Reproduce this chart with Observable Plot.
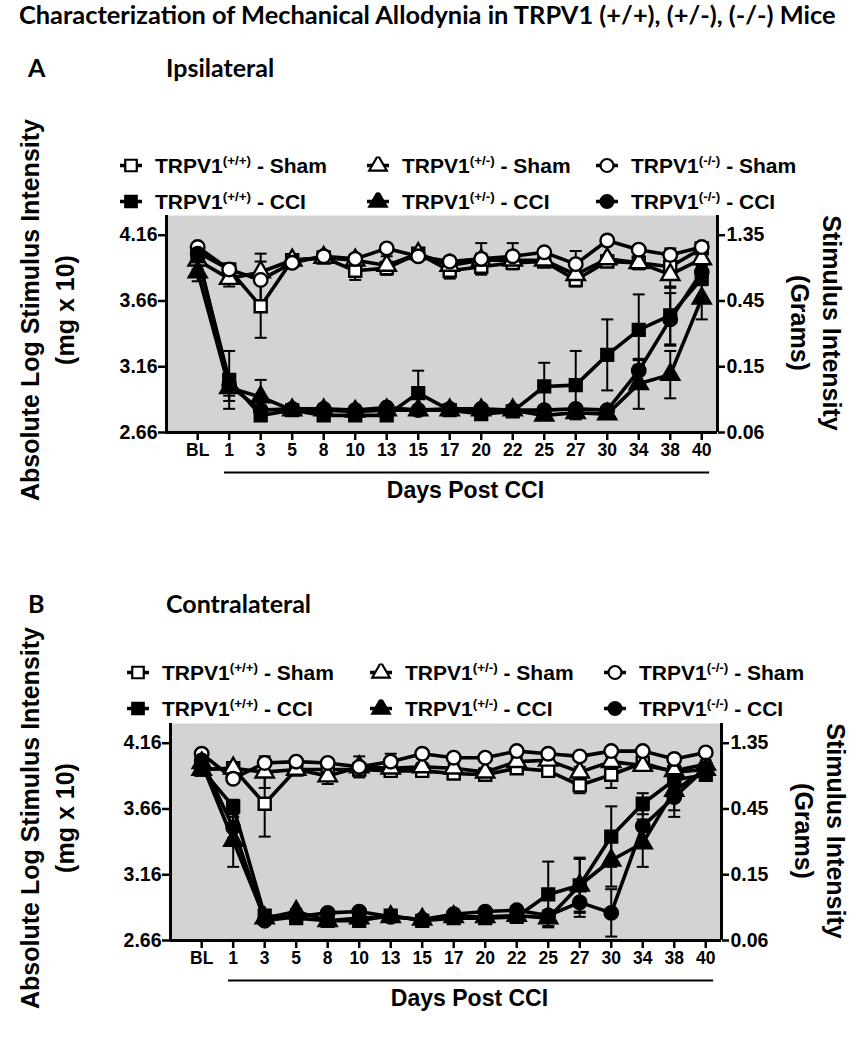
<!DOCTYPE html>
<html><head><meta charset="utf-8">
<script src="https://cdn.jsdelivr.net/npm/d3@7"></script>
<script src="https://cdn.jsdelivr.net/npm/@observablehq/plot@0.6"></script>
<style>
body{margin:0;background:#fff;}
#root{position:relative;width:867px;height:1050px;overflow:hidden;font-family:"Liberation Sans",Arial,sans-serif;}
.abs{position:absolute;z-index:2;white-space:nowrap;line-height:1;}
.head{font-family:Lato,"Liberation Sans",sans-serif;font-weight:bold;font-size:25px;transform:translateY(-50%);}
.title{font-size:25.4px;}
.leg{position:absolute;z-index:2;display:flex;align-items:center;font-weight:bold;font-size:21px;white-space:nowrap;transform:translateY(-50%);line-height:1;}
.leg svg{margin-right:12px;}
.leg sup{font-size:0.64em;vertical-align:0.55em;line-height:0;}
</style></head>
<body><div id="root"></div>
<script>
// ---------- data ----------
const days = ["BL","1","3","5","8","10","13","15","17","20","22","25","27","30","34","38","40"];
const seriesNames = ["TRPV1(+/+) - Sham","TRPV1(+/-) - Sham","TRPV1(-/-) - Sham","TRPV1(+/+) - CCI","TRPV1(+/-) - CCI","TRPV1(-/-) - CCI"];
const leftTicks = [2.66, 3.16, 3.66, 4.16];
const rightTickLabels = ["0.06","0.15","0.45","1.35"];

// Panel A - Ipsilateral (absolute log stimulus intensity)
const ipsiShamWT  = [4.03,3.90,3.62,3.97,3.99,3.89,3.91,4.02,3.89,3.92,3.95,3.96,3.82,3.96,3.95,3.92,4.06];
const ipsiShamHet = [3.97,3.83,3.88,3.97,3.99,3.97,3.93,4.02,3.93,3.97,3.97,3.97,3.86,3.98,3.95,3.86,3.98];
const ipsiShamKO  = [4.07,3.90,3.82,3.95,4.00,3.98,4.06,4.00,3.96,3.98,4.00,4.03,3.94,4.12,4.05,4.01,4.07];
const ipsiCciWT   = [4.00,3.06,2.79,2.83,2.79,2.79,2.79,2.96,2.83,2.80,2.82,3.01,3.02,3.25,3.44,3.55,3.83];
const ipsiCciHet  = [3.88,3.00,2.93,2.83,2.83,2.82,2.83,2.83,2.83,2.83,2.83,2.79,2.81,2.80,3.03,3.10,3.68];
const ipsiCciKO   = [4.02,3.02,2.83,2.84,2.84,2.83,2.85,2.83,2.84,2.84,2.83,2.83,2.84,2.83,3.13,3.52,3.88];
const ipsiShamWTErr  = [0.03,0.03,0.24,0.02,0.02,0.07,0.05,0.03,0.06,0.04,0.04,0.04,0.05,0.04,0.04,0.04,0.03];
const ipsiShamHetErr = [0.07,0.06,0.08,0.02,0.02,0.03,0.07,0.02,0.05,0.05,0.05,0.04,0.06,0.03,0.05,0.10,0.05];
const ipsiShamKOErr  = [0.02,0.03,0.20,0.02,0.02,0.03,0.03,0.02,0.03,0.12,0.10,0.02,0.10,0.02,0.03,0.05,0.02];
const ipsiCciWTErr   = [0.04,0.22,0.03,0.02,0.03,0.02,0.02,0.17,0.02,0.02,0.02,0.18,0.26,0.27,0.27,0.22,0.05];
const ipsiCciHetErr  = [0.07,0.10,0.13,0.02,0.02,0.02,0.02,0.02,0.02,0.02,0.02,0.02,0.04,0.03,0.19,0.18,0.16];
const ipsiCciKOErr   = [0.03,0.08,0.03,0.02,0.02,0.02,0.02,0.02,0.02,0.02,0.02,0.02,0.03,0.02,0.08,0.20,0.05];

// Panel B - Contralateral
const contraShamWT  = [3.96,3.97,3.70,3.96,3.96,3.96,3.95,3.95,3.93,3.92,3.97,3.95,3.84,3.92,4.01,3.94,3.96];
const contraShamHet = [3.96,3.97,3.94,3.96,3.91,3.98,3.97,3.98,3.97,3.94,4.02,4.03,3.94,4.02,3.99,3.95,4.00];
const contraShamKO  = [4.08,3.89,4.01,4.02,4.01,3.98,4.02,4.08,4.05,4.05,4.10,4.08,4.06,4.10,4.10,4.04,4.09];
const contraCciWT   = [3.96,3.68,2.85,2.83,2.81,2.81,2.85,2.81,2.83,2.83,2.84,3.01,3.08,3.45,3.70,3.88,3.92];
const contraCciHet  = [4.01,3.42,2.83,2.88,2.81,2.83,2.84,2.82,2.84,2.84,2.85,2.83,3.08,3.27,3.40,3.80,3.96];
const contraCciKO   = [4.03,3.52,2.81,2.84,2.87,2.88,2.84,2.82,2.86,2.88,2.89,2.85,2.95,2.87,3.53,3.75,3.97];
const contraShamWTErr  = [0.02,0.03,0.25,0.03,0.02,0.03,0.03,0.02,0.03,0.03,0.03,0.03,0.06,0.10,0.03,0.03,0.03];
const contraShamHetErr = [0.02,0.03,0.12,0.03,0.06,0.08,0.05,0.03,0.03,0.03,0.03,0.03,0.04,0.04,0.03,0.06,0.03];
const contraShamKOErr  = [0.02,0.03,0.03,0.02,0.02,0.03,0.06,0.02,0.02,0.02,0.02,0.02,0.02,0.02,0.02,0.02,0.02];
const contraCciWTErr   = [0.03,0.05,0.02,0.02,0.02,0.02,0.02,0.02,0.02,0.02,0.02,0.25,0.21,0.23,0.08,0.05,0.04];
const contraCciHetErr  = [0.03,0.20,0.02,0.02,0.02,0.02,0.02,0.02,0.02,0.02,0.02,0.06,0.20,0.20,0.18,0.20,0.04];
const contraCciKOErr   = [0.03,0.08,0.02,0.02,0.02,0.02,0.02,0.02,0.02,0.02,0.02,0.03,0.11,0.18,0.12,0.10,0.04];

// ---------- helpers ----------
function rowsOf(vals, errs) {
  const rows = [];
  vals.forEach((arr, s) => arr.forEach((v, i) => rows.push({series: seriesNames[s], sham: s < 3, i, v, e: errs[s][i]})));
  return rows;
}
const capSymbol = {draw(ctx, size) { const h = Math.sqrt(size / Math.PI); ctx.moveTo(-h, 0); ctx.lineTo(h, 0); }};
const xDomain = [-0.99, 16.5];
const yDomain = [2.66, 4.31];

function panel(rows, cfg) {
  const i1 = days.indexOf("1"), i40 = days.indexOf("40");
  const svg = Plot.plot({
    width: 867, height: cfg.height,
    marginLeft: cfg.left, marginRight: 867 - cfg.right, marginTop: cfg.mt, marginBottom: cfg.mb,
    style: {background: "transparent", fontFamily: "'Liberation Sans', Arial, sans-serif", fontWeight: "bold", overflow: "visible", color: "black"},
    x: {type: "linear", domain: xDomain},
    y: {domain: yDomain},
    symbol: {domain: seriesNames, range: ["square","triangle","circle","square","triangle","circle"]},
    marks: [
      Plot.frame({fill: "#d3d3d3", stroke: null}),
      Plot.axisY({anchor: "left", ticks: leftTicks, tickFormat: d => d.toFixed(2), tickSize: 8, tickPadding: 1, fontSize: 19.5, strokeWidth: 2.5, label: null}),
      Plot.axisY({anchor: "right", ticks: leftTicks, tickFormat: d => rightTickLabels[leftTicks.indexOf(d)], tickSize: 7, tickPadding: 2, fontSize: 19.5, strokeWidth: 2.5, label: null}),
      Plot.axisX({ticks: d3.range(days.length), tickFormat: i => days[i], tickSize: 8, tickPadding: 3, fontSize: 17.5, strokeWidth: 2.5, label: null}),
      Plot.ruleX([xDomain[0], xDomain[1]], {strokeWidth: 3}),
      Plot.ruleY([yDomain[0]], {strokeWidth: 3}),
      Plot.ruleY([{y: yDomain[0], x1: i1 - 0.15, x2: i40 + 0.25}], {y: "y", x1: "x1", x2: "x2", dy: 40, strokeWidth: 2}),
      Plot.text(["Days Post CCI"], {x: (i1 + i40) / 2, y: yDomain[0], text: d => d, dy: 58, fontSize: 23}),
      Plot.text(["Absolute Log Stimulus Intensity"], {frameAnchor: "left", text: d => d, rotate: -90, textAnchor: "middle", dx: cfg.lab1, dy: -14, fontSize: 25}),
      Plot.text(["(mg x 10)"], {frameAnchor: "left", text: d => d, rotate: -90, textAnchor: "middle", dx: cfg.lab2, dy: -14, fontSize: 25}),
      Plot.text(["Stimulus Intensity"], {frameAnchor: "right", text: d => d, rotate: 90, textAnchor: "middle", dx: 113, dy: -1, fontSize: 25}),
      Plot.text(["(Grams)"], {frameAnchor: "right", text: d => d, rotate: 90, textAnchor: "middle", dx: 81, dy: -1, fontSize: 25}),
      Plot.ruleX(rows, {x: "i", y1: d => d.v - d.e, y2: d => d.v + d.e, strokeWidth: 2}),
      Plot.dot(rows, {x: "i", y: d => d.v + d.e, symbol: capSymbol, r: 6, stroke: "black", fill: "none", strokeWidth: 2}),
      Plot.dot(rows, {x: "i", y: d => d.v - d.e, symbol: capSymbol, r: 6, stroke: "black", fill: "none", strokeWidth: 2}),
      Plot.line(rows, {x: "i", y: "v", z: "series", stroke: "black", strokeWidth: 3.6}),
      Plot.dot(rows.filter(d => d.sham), {x: "i", y: "v", symbol: "series", fill: "white", stroke: "black", strokeWidth: 2.4, r: 6.8}),
      Plot.dot(rows.filter(d => !d.sham), {x: "i", y: "v", symbol: "series", fill: "black", stroke: "black", strokeWidth: 2.2, r: 6.8})
    ]
  });
  svg.style.position = "absolute";
  svg.style.left = "0px";
  svg.style.top = cfg.top + "px";
  svg.style.maxWidth = "none";
  return svg;
}

const root = document.getElementById("root");
const rowsA = rowsOf([ipsiShamWT, ipsiShamHet, ipsiShamKO, ipsiCciWT, ipsiCciHet, ipsiCciKO],
  [ipsiShamWTErr, ipsiShamHetErr, ipsiShamKOErr, ipsiCciWTErr, ipsiCciHetErr, ipsiCciKOErr]);
const rowsB = rowsOf([contraShamWT, contraShamHet, contraShamKO, contraCciWT, contraCciHet, contraCciKO],
  [contraShamWTErr, contraShamHetErr, contraShamKOErr, contraCciWTErr, contraCciHetErr, contraCciKOErr]);

root.appendChild(panel(rowsA, {top: 100, height: 420, left: 166, right: 717, mt: 115, mb: 88, lab1: -136, lab2: -101}));
root.appendChild(panel(rowsB, {top: 608, height: 442, left: 170, right: 721, mt: 115, mb: 110, lab1: -140, lab2: -105}));

// headings
function addText(txt, cls, x, y) {
  const d = document.createElement("div");
  d.className = "abs " + cls; d.textContent = txt;
  d.style.left = x + "px"; d.style.top = y + "px";
  root.appendChild(d);
}
addText("Characterization of Mechanical Allodynia in TRPV1 (+/+), (+/-), (-/-) Mice", "head title", 19, 15);
addText("A", "head", 28, 67);
addText("Ipsilateral", "head", 166, 67);
addText("B", "head", 28, 603);
addText("Contralateral", "head", 166, 603);

// legends
function legendIcon(shape, filled) {
  const ns = "http://www.w3.org/2000/svg";
  const s = document.createElementNS(ns, "svg");
  s.setAttribute("width", 24); s.setAttribute("height", 18);
  const l = document.createElementNS(ns, "line");
  l.setAttribute("x1", 1); l.setAttribute("x2", 23); l.setAttribute("y1", 9); l.setAttribute("y2", 9);
  l.setAttribute("stroke", "black"); l.setAttribute("stroke-width", 3.5);
  s.appendChild(l);
  const p = document.createElementNS(ns, "path");
  const sym = shape === "square" ? d3.symbolSquare : shape === "triangle" ? d3.symbolTriangle : d3.symbolCircle;
  p.setAttribute("d", d3.symbol(sym, Math.PI * 6.5 * 6.5)());
  p.setAttribute("transform", "translate(12,9)");
  p.setAttribute("fill", filled ? "black" : "white");
  p.setAttribute("stroke", "black"); p.setAttribute("stroke-width", 2.2);
  s.appendChild(p);
  return s;
}
const legendShapes = ["square","triangle","circle","square","triangle","circle"];
function addLegend(cols, rowsY) {
  seriesNames.forEach((name, k) => {
    const col = k % 3, row = Math.floor(k / 3);
    const d = document.createElement("div");
    d.className = "leg";
    d.style.left = cols[col] + "px"; d.style.top = rowsY[row] + "px";
    d.appendChild(legendIcon(legendShapes[k], row === 1));
    const m = name.match(/^(TRPV1)(\(.*?\))(.*)$/);
    const span = document.createElement("span");
    span.append(m[1]);
    const sup = document.createElement("sup"); sup.textContent = m[2];
    span.appendChild(sup);
    span.append(" " + m[3].trim());
    d.appendChild(span);
    root.appendChild(d);
  });
}
addLegend([119, 366, 595], [165, 201]);
addLegend([126, 369, 603], [672, 708]);
</script></body></html>
